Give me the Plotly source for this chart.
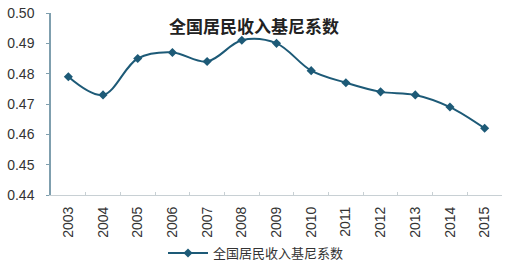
import plotly.graph_objects as go

years = ["2003", "2004", "2005", "2006", "2007", "2008", "2009", "2010", "2011", "2012", "2013", "2014", "2015"]
gini = [0.479, 0.473, 0.485, 0.487, 0.484, 0.491, 0.490, 0.481, 0.477, 0.474, 0.473, 0.469, 0.462]
yticks = [0.44, 0.45, 0.46, 0.47, 0.48, 0.49, 0.50]
series_name = "全国居民收入基尼系数"
title_text = "全国居民收入基尼系数"

font_family = "Liberation Sans, Noto Sans CJK SC, sans-serif"
cjk = "Noto Sans CJK SC, sans-serif"

fig = go.Figure()
fig.add_trace(go.Scatter(
    x=years, y=gini, mode="lines+markers", name=series_name,
    line=dict(color="#1d5a77", width=2, shape="spline", smoothing=1.0),
    marker=dict(symbol="diamond", size=7, color="#1d5a77"),
))

fig.update_layout(
    width=509, height=268,
    margin=dict(l=51, r=7, t=13, b=73, autoexpand=False),
    paper_bgcolor="white", plot_bgcolor="white",
    font=dict(family=font_family, color="#333333"),
    showlegend=True,
    legend=dict(orientation="h", x=(256 - 51) / 451, xanchor="center", y=11, yanchor="middle",
                yref="container",
                font=dict(family=cjk, size=13, color="#333333"), itemwidth=40),
    annotations=[dict(text="<b>" + title_text + "</b>",
                      x=(254 - 51) / 451, y=(195 - 25) / 182,
                      xref="paper", yref="paper",
                      xanchor="center", yanchor="middle", showarrow=False,
                      font=dict(family=cjk, size=17, color="#222222"))],
)
fig.update_yaxes(range=[0.44, 0.50], tickvals=yticks, ticktext=[f"{v:.2f}" for v in yticks],
                 showgrid=False, zeroline=False, showline=True, linecolor="#7f9fae", linewidth=1.5,
                 ticks="outside", ticklen=3, tickcolor="#7f9fae", automargin=False,
                 ticklabelstandoff=9,
                 tickfont=dict(size=14, color="#333333"))
fig.update_xaxes(type="category", showgrid=False, showline=True, linecolor="#c8d0d4", linewidth=1,
                 ticks="inside", ticklen=3, tickcolor="#c8d0d4", tickson="boundaries",
                 tickangle=-90, tickfont=dict(size=14, color="#333333"), automargin=False,
                 ticklabelstandoff=5,
                 range=[-0.5, 12.5])

fig.write_html("out.html")
